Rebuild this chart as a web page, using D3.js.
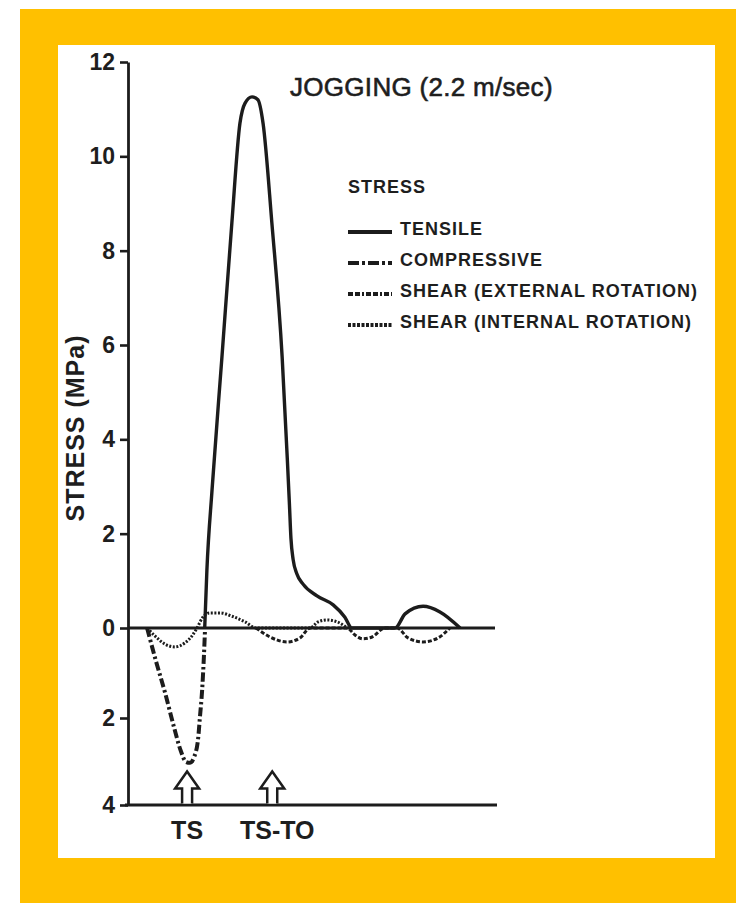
<!DOCTYPE html>
<html>
<head>
<meta charset="utf-8">
<script src="https://cdn.jsdelivr.net/npm/d3@7"></script>
<style>
  body { margin: 0; background: #fff; }
  svg { display: block; }
  text { font-family: "Liberation Sans", Arial, Helvetica, sans-serif; fill: #1e1e1e; }
</style>
</head>
<body>
<svg id="chart" width="736" height="904"></svg>
<script>
// ---- labels ----
const title = "JOGGING (2.2 m/sec)";
const yLabel = "STRESS (MPa)";
const yTicks = [-4, -2, 0, 2, 4, 6, 8, 10, 12];
const legendTitle = "STRESS";
const seriesNames = ["TENSILE", "COMPRESSIVE", "SHEAR (EXTERNAL ROTATION)", "SHEAR (INTERNAL ROTATION)"];
const events = ["TS", "TS-TO"];
const eventTimes = [16.1, 39.3];   // % of cycle

// ---- stress traces: [time (% of cycle), stress (MPa)]; compressive plotted below zero ----
const tensile = [
  [20.9, 0], [21.5, 1.23], [22.9, 2.93], [25.6, 5.75], [28.3, 8.59], [30.5, 10.7],
  [31.9, 11.13], [33.8, 11.26], [35.4, 11.2], [36.8, 10.7], [39.2, 8.59], [42.0, 5.75],
  [43.4, 3.6], [44.0, 2.6], [44.4, 1.9], [45.0, 1.45], [46.0, 1.15], [47.7, 0.93],
  [51.5, 0.68], [55.9, 0.49], [59.1, 0.23], [61.0, 0], [72.8, 0], [75.5, 0.3],
  [80.4, 0.46], [85.0, 0.34], [90.5, 0]
];
const compressive = [
  [5.2, 0], [7.6, -0.73], [10.1, -1.44], [12.5, -2.2], [14.4, -2.76], [15.8, -3.01],
  [16.9, -3.03], [18.0, -2.9], [19.1, -2.48], [19.6, -1.98], [20.2, -1.38], [20.7, -0.6], [21.0, 0]
];
const shearExternal = [
  [34.9, 0], [38.7, -0.2], [43.3, -0.31], [46.9, -0.22], [49.6, 0], [59.7, 0],
  [61.9, -0.16], [64.0, -0.24], [66.5, -0.2], [70.0, 0], [73.3, 0], [76.3, -0.22],
  [80.4, -0.31], [84.5, -0.22], [87.7, 0]
];
const shearInternal = [
  [5.2, 0], [7.4, -0.18], [10.1, -0.36], [12.8, -0.42], [15.5, -0.33], [17.4, -0.18],
  [18.8, 0], [20.4, 0.23], [22.3, 0.32], [25.1, 0.32], [28.3, 0.25], [31.9, 0.13],
  [34.9, 0], [49.6, 0], [51.8, 0.13], [54.2, 0.17], [57.0, 0.13], [59.7, 0]
];

const ink = "#1c1c1c";
const styles = [
  { width: 3.4, dash: null },
  { width: 4, dash: "9,3,2.5,3" },
  { width: 3, dash: "4,2" },
  { width: 3, dash: "2,1.6" }
];
const legendDash = [null, "11,3,3,3", "5,2,5,2,2,2", "3,1.5"];

const svg = d3.select("#chart");

// frame and paper
svg.append("rect").attr("x", 20).attr("y", 9).attr("width", 716).attr("height", 894).attr("fill", "#FFC000");
svg.append("rect").attr("x", 58).attr("y", 45).attr("width", 657).attr("height", 813).attr("fill", "#fff");

// scales: stress axis runs 12 at top down to 4 (compressive) at bottom
const x = d3.scaleLinear().domain([0, 100]).range([128, 495]);
const y = d3.scaleLinear().domain([-4, -2, 0, 12]).range([805, 718, 628, 62]);

// y axis
const yAxis = d3.axisLeft(y)
  .tickValues(yTicks)
  .tickFormat(d => Math.abs(d))
  .tickSize(8)
  .tickPadding(5)
  .tickSizeOuter(0);
const ga = svg.append("g").attr("transform", `translate(${x(0)},0)`).call(yAxis);
ga.select(".domain").attr("stroke", ink).attr("stroke-width", 2.8);
ga.selectAll(".tick line").attr("stroke", ink).attr("stroke-width", 2.6);
ga.selectAll(".tick text")
  .attr("font-size", 23).attr("font-weight", "bold").attr("fill", ink)
  .style("font-family", "'Liberation Sans', Arial, sans-serif");

// baseline at 4 and zero line
svg.append("line").attr("x1", x(0) - 3).attr("x2", x(100) + 2)
  .attr("y1", y(-4)).attr("y2", y(-4)).attr("stroke", ink).attr("stroke-width", 2.8);
svg.append("line").attr("x1", x(0)).attr("x2", x(100))
  .attr("y1", y(0)).attr("y2", y(0)).attr("stroke", ink).attr("stroke-width", 2.8);

// curves
const line = d3.line().x(d => x(d[0])).y(d => y(d[1])).curve(d3.curveMonotoneX);
const series = [tensile, compressive, shearExternal, shearInternal];
series.forEach((s, i) => {
  svg.append("path")
    .attr("d", line(s))
    .attr("fill", "none")
    .attr("stroke", ink)
    .attr("stroke-width", styles[i].width)
    .attr("stroke-dasharray", styles[i].dash)
    .attr("stroke-linejoin", "round");
});

// event arrows and labels
const labelShift = [0, 5];
eventTimes.forEach((t, i) => {
  const cx = x(t), base = y(-4) - 1.5, tip = base - 32, neck = tip + 17;
  svg.append("path")
    .attr("d", `M${cx - 5},${base} L${cx - 5},${neck} L${cx - 12},${neck} L${cx},${tip} L${cx + 12},${neck} L${cx + 5},${neck} L${cx + 5},${base}`)
    .attr("fill", "#fff").attr("stroke", ink).attr("stroke-width", 2.5).attr("stroke-linejoin", "miter");
  svg.append("text")
    .attr("x", cx + labelShift[i]).attr("y", 839)
    .attr("text-anchor", "middle").attr("font-size", 25).attr("font-weight", "bold")
    .text(events[i]);
});

// title
svg.append("text").attr("x", 290).attr("y", 96)
  .attr("font-size", 26).attr("letter-spacing", 0.3)
  .attr("stroke", "#1e1e1e").attr("stroke-width", 0.6)
  .text(title);

// y axis title
svg.append("text")
  .attr("transform", "translate(84,428) rotate(-90)")
  .attr("text-anchor", "middle").attr("font-size", 25).attr("font-weight", "bold")
  .attr("letter-spacing", 1)
  .text(yLabel);

// legend
const lg = svg.append("g");
lg.append("text").attr("x", 348).attr("y", 193)
  .attr("font-size", 18).attr("font-weight", "bold").attr("letter-spacing", 1)
  .text(legendTitle);
seriesNames.forEach((name, i) => {
  const by = 235 + i * 31;
  lg.append("line").attr("x1", 348).attr("x2", 392).attr("y1", by - 3).attr("y2", by - 3)
    .attr("stroke", ink).attr("stroke-width", 4).attr("stroke-dasharray", legendDash[i]);
  lg.append("text").attr("x", 400).attr("y", by)
    .attr("font-size", 18).attr("font-weight", "bold").attr("letter-spacing", 1)
    .text(name);
});
</script>
</body>
</html>
